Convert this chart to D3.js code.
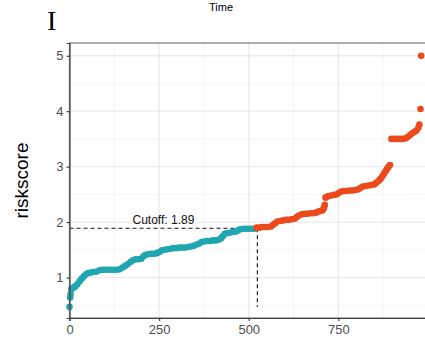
<!DOCTYPE html>
<html>
<head>
<meta charset="utf-8">
<script src="https://cdn.jsdelivr.net/npm/d3@7"></script>
<style>
  body { margin: 0; background: #fff; }
  svg { display: block; }
</style>
</head>
<body>
<div id="chart"></div>
<script>
// Set dimensions and margins
const width = 425;
const height = 350;
const margin = {left: 69.5, right: -3, bottom: 32, top: 43};

// patient rank (sorted by riskscore) and riskscore
const ranks = [0, 2, 3, 5, 8, 12, 16, 22, 28, 34, 40, 46, 52, 60, 68, 76, 84, 92, 100, 108,
  116, 124, 132, 140, 148, 155, 162, 170, 177, 184, 192, 200, 206, 212, 220, 228, 236, 244,
  251, 258, 266, 274, 282, 290, 298, 306, 314, 322, 330, 338, 346, 354, 361, 368, 376, 384,
  392, 400, 408, 416, 423, 428, 433, 440, 448, 456, 464, 470, 476, 484, 492, 500, 508, 516,
  522, 530, 538, 546, 554, 562, 568, 574, 580, 588, 596, 604, 612, 620, 628, 634, 640, 648,
  656, 664, 672, 680, 688, 694, 700, 705, 708, 710, 712, 714, 716, 722, 730, 738, 746, 752,
  758, 766, 774, 782, 790, 798, 806, 812, 818, 826, 834, 842, 850, 856, 862, 866, 870, 874,
  878, 882, 886, 890, 894, 898, 906, 914, 922, 930, 938, 944, 950, 956, 962, 968, 973, 976,
  979, 981];
const scores = [0.47, 0.64, 0.70, 0.79, 0.81, 0.82, 0.84, 0.88, 0.93, 0.98, 1.02, 1.06, 1.08,
  1.09, 1.10, 1.11, 1.13, 1.14, 1.14, 1.14, 1.14, 1.14, 1.14, 1.15, 1.18, 1.21, 1.24, 1.28,
  1.31, 1.33, 1.33, 1.34, 1.38, 1.41, 1.42, 1.43, 1.43, 1.44, 1.46, 1.49, 1.50, 1.51, 1.52,
  1.53, 1.53, 1.54, 1.54, 1.54, 1.55, 1.56, 1.57, 1.59, 1.61, 1.64, 1.65, 1.66, 1.66, 1.67,
  1.67, 1.68, 1.71, 1.75, 1.79, 1.80, 1.81, 1.82, 1.83, 1.85, 1.87, 1.88, 1.88, 1.88, 1.88,
  1.88, 1.90, 1.90, 1.91, 1.91, 1.91, 1.92, 1.95, 1.98, 2.01, 2.02, 2.03, 2.04, 2.04, 2.05,
  2.06, 2.09, 2.12, 2.14, 2.15, 2.15, 2.16, 2.16, 2.17, 2.19, 2.20, 2.21, 2.23, 2.26, 2.31,
  2.44, 2.45, 2.47, 2.48, 2.49, 2.50, 2.53, 2.55, 2.56, 2.56, 2.57, 2.57, 2.58, 2.59, 2.62,
  2.64, 2.65, 2.66, 2.67, 2.68, 2.71, 2.74, 2.77, 2.80, 2.84, 2.88, 2.92, 2.96, 3.00, 3.03,
  3.50, 3.50, 3.50, 3.50, 3.50, 3.51, 3.54, 3.57, 3.60, 3.63, 3.65, 3.70, 3.76, 4.04, 5.00];

const cutoff = 1.89;
const cutoffRank = 524;
const xTicks = [0, 250, 500, 750];
const yTicks = [1, 2, 3, 4, 5];

const colorLow = "#20a6b0";
const colorHigh = "#ec4a1c";

const data = ranks.map((r, i) => ({rank: r, score: scores[i]}));

const svg = d3.select("#chart")
  .append("svg")
  .attr("width", width)
  .attr("height", height);

// scales
const xScale = d3.scaleLinear()
  .domain([0, 1000])
  .range([margin.left, width - margin.right]);

const yScale = d3.scaleLinear()
  .domain([0.27, 5.23])
  .range([height - margin.bottom, margin.top]);

// grid (minor then major)
const gx = svg.append("g");
const xMinor = [125, 375, 625, 875];
const yMinor = [0.5, 1.5, 2.5, 3.5, 4.5];
gx.selectAll(".xminor").data(xMinor).enter().append("line")
  .attr("x1", d => xScale(d)).attr("x2", d => xScale(d))
  .attr("y1", margin.top).attr("y2", height - margin.bottom)
  .attr("stroke", "#f2f2f2").attr("stroke-width", 0.8);
gx.selectAll(".yminor").data(yMinor).enter().append("line")
  .attr("x1", margin.left).attr("x2", width - margin.right)
  .attr("y1", d => yScale(d)).attr("y2", d => yScale(d))
  .attr("stroke", "#f2f2f2").attr("stroke-width", 0.8);
gx.selectAll(".xmajor").data(xTicks).enter().append("line")
  .attr("x1", d => xScale(d)).attr("x2", d => xScale(d))
  .attr("y1", margin.top).attr("y2", height - margin.bottom)
  .attr("stroke", "#ebebeb").attr("stroke-width", 1.3);
gx.selectAll(".ymajor").data(yTicks).enter().append("line")
  .attr("x1", margin.left).attr("x2", width - margin.right)
  .attr("y1", d => yScale(d)).attr("y2", d => yScale(d))
  .attr("stroke", "#ebebeb").attr("stroke-width", 1.3);

// cutoff dashed lines
svg.append("line")
  .attr("x1", xScale(0)).attr("x2", xScale(cutoffRank))
  .attr("y1", yScale(cutoff)).attr("y2", yScale(cutoff))
  .attr("stroke", "#111").attr("stroke-width", 1.1)
  .attr("stroke-dasharray", "4,3");
svg.append("line")
  .attr("x1", xScale(cutoffRank)).attr("x2", xScale(cutoffRank))
  .attr("y1", yScale(cutoff)).attr("y2", yScale(d3.min(scores)))
  .attr("stroke", "#111").attr("stroke-width", 1.1)
  .attr("stroke-dasharray", "4,3");

svg.append("text")
  .attr("x", xScale(cutoffRank / 2))
  .attr("y", yScale(cutoff) - 4)
  .attr("text-anchor", "middle")
  .attr("font-family", "Liberation Sans, Arial, sans-serif")
  .attr("font-size", "12px")
  .attr("fill", "#111")
  .text("Cutoff: " + cutoff);

// points
svg.selectAll(".pt")
  .data(data)
  .enter()
  .append("circle")
  .attr("class", "pt")
  .attr("cx", d => xScale(d.rank))
  .attr("cy", d => yScale(d.score))
  .attr("r", 3.3)
  .attr("fill", d => d.score >= cutoff ? colorHigh : colorLow);

// panel border
svg.append("rect")
  .attr("x", margin.left).attr("y", margin.top)
  .attr("width", width - margin.right - margin.left)
  .attr("height", height - margin.bottom - margin.top)
  .attr("fill", "none")
  .attr("stroke", "#777").attr("stroke-width", 1.2);

// axes
const yAxis = svg.append("g")
  .attr("transform", `translate(${margin.left}, 0)`)
  .call(d3.axisLeft(yScale).tickValues(yTicks).tickFormat(d3.format("d"))
    .tickSize(3).tickPadding(3));
const xAxis = svg.append("g")
  .attr("transform", `translate(0, ${height - margin.bottom})`)
  .call(d3.axisBottom(xScale).tickValues(xTicks).tickFormat(d3.format("d"))
    .tickSize(3).tickPadding(4));

[yAxis, xAxis].forEach(ax => {
  ax.select(".domain").attr("stroke", "#444").attr("stroke-width", 1.2);
  ax.selectAll(".tick line").attr("stroke", "#333").attr("stroke-width", 1.1);
  ax.selectAll(".tick text")
    .attr("fill", "#4d4d4d")
    .attr("font-family", "Liberation Sans, Arial, sans-serif")
    .attr("font-size", "13px");
});

// y axis title
svg.append("text")
  .attr("transform", "rotate(-90)")
  .attr("x", -(margin.top + (height - margin.bottom)) / 2)
  .attr("y", 28)
  .attr("text-anchor", "middle")
  .attr("font-family", "Liberation Sans, Arial, sans-serif")
  .attr("font-size", "19px")
  .attr("fill", "#000")
  .text("riskscore");

// previous panel's axis title, cut at the top
svg.append("text")
  .attr("x", 221)
  .attr("y", 11)
  .attr("text-anchor", "middle")
  .attr("font-family", "Liberation Sans, Arial, sans-serif")
  .attr("font-size", "11px")
  .attr("fill", "#000")
  .text("Time");

// panel letter
svg.append("text")
  .attr("x", 47)
  .attr("y", 30)
  .attr("font-family", "Liberation Serif, Times New Roman, serif")
  .attr("font-size", "28px")
  .attr("fill", "#000")
  .text("I");
</script>
</body>
</html>
